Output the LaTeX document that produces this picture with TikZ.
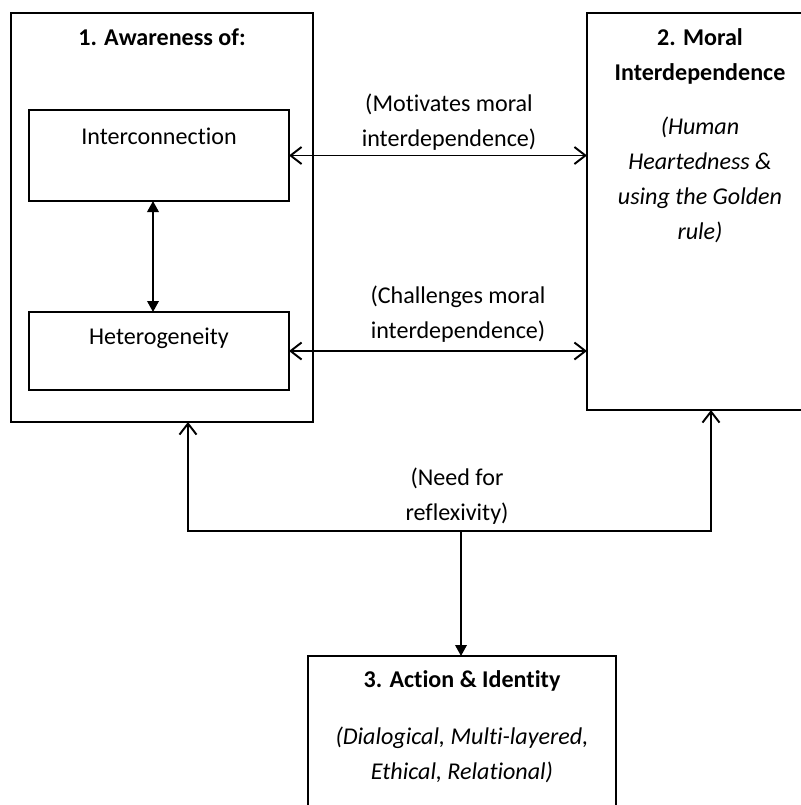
\documentclass[tikz,border=0pt]{standalone}
\usepackage{fontspec}
\setmainfont{Carlito}[RawFeature={-liga}]
\usetikzlibrary{arrows.meta,positioning}

\begin{document}
\begin{tikzpicture}[x=1cm,y=1cm]
\tikzset{
  outerbox/.style={draw,line width=1.1pt,inner sep=0pt,outer sep=0pt},
  lbl/.style={inner sep=0pt,align=center,font=\fontsize{13.7}{19.9}\selectfont},
  openarr/.style={{Straight Barb[length=2.2mm,width=3.4mm]}-{Straight Barb[length=2.2mm,width=3.4mm]},line width=1.1pt},
  uparr/.style={-{Straight Barb[length=2.2mm,width=3.4mm]},line width=1.1pt},
  fillarr/.style={-{Triangle[length=2.2mm,width=2.3mm]},line width=1.1pt},
  dblarr/.style={{Triangle[length=2.2mm,width=2.3mm]}-{Triangle[length=2.2mm,width=2.3mm]},line width=1.1pt}
}
\clip (0,0) rectangle (16.02,-16.10);
% boxes
\node[outerbox,minimum width=6.04cm,minimum height=8.18cm] (n_aware) at (3.24,-4.35) {};
\node[outerbox,minimum width=5.20cm,minimum height=1.82cm] (n_ic) at (3.18,-3.11) {};
\node[outerbox,minimum width=5.20cm,minimum height=1.56cm] (n_het) at (3.18,-7.02) {};
\node[outerbox,minimum width=4.52cm,minimum height=7.94cm] (n_moral) at (14.00,-4.23) {};
\node[outerbox,minimum width=6.16cm,minimum height=3.48cm] (n_act) at (9.24,-14.86) {};
% texts
\node[lbl,font=\fontsize{13.7}{19.9}\selectfont\bfseries] (t_aware) at (3.24,-0.74) {1. Awareness of:};
\node[lbl] (t_ic) at (3.18,-2.72) {Interconnection};
\node[lbl] (t_het) at (3.18,-6.76) {Heterogeneity};
\node[lbl,font=\fontsize{13.7}{19.9}\selectfont\bfseries] (t_moral) at (14.00,-1.12) {2. Moral\\Interdependence};
\node[lbl,font=\fontsize{13.7}{19.9}\selectfont\itshape] (t_golden) at (14.00,-3.60) {(Human\\Heartedness \&\\using the Golden\\rule)};
\node[lbl,font=\fontsize{13.7}{19.9}\selectfont\bfseries] (t_act) at (9.24,-13.62) {3. Action \& Identity};
\node[lbl,font=\fontsize{13.7}{19.9}\selectfont\itshape] (t_dial) at (9.24,-15.09) {(Dialogical, Multi-layered,\\Ethical, Relational)};
\node[lbl] (t_mot) at (8.98,-2.44) {(Motivates moral\\interdependence)};
\node[lbl] (t_chal) at (9.16,-6.28) {(Challenges moral\\interdependence)};
\node[lbl] (t_need) at (9.14,-9.93) {(Need for\\reflexivity)};
% connectors
\coordinate (c_left) at (3.76,-10.62);
\coordinate (c_right) at (14.22,-10.62);
\coordinate (c_mid) at (9.22,-10.62);
\draw[dblarr] ([xshift=-1.2mm]n_ic.south) -- ([xshift=-1.2mm]n_het.north);
\draw[openarr] (n_ic.east) -- (n_ic.east -| n_moral.west);
\draw[openarr] (n_het.east) -- (n_het.east -| n_moral.west);
\draw[uparr] (c_mid) -- (c_left) -- (c_left |- n_aware.south);
\draw[uparr] (c_mid) -- (c_right) -- (c_right |- n_moral.south);
\draw[fillarr] (c_mid) -- (c_mid |- n_act.north);
\end{tikzpicture}
\end{document}
